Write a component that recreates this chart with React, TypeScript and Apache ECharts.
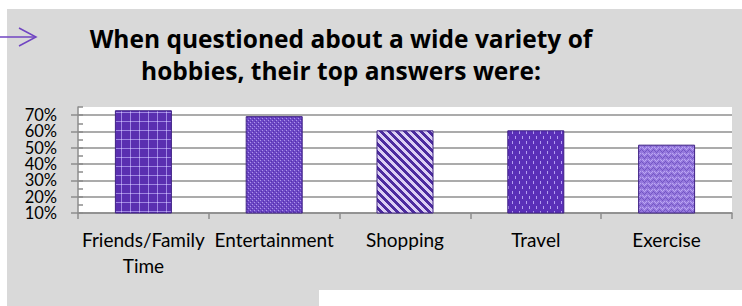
import React, { useEffect, useRef } from "react";
import * as echarts from "echarts";

const titleLines = ["When questioned about a wide variety of", "hobbies, their top answers were:"];
const categories = ["Friends/Family\nTime", "Entertainment", "Shopping", "Travel", "Exercise"];
const shares = [0.73, 0.694, 0.607, 0.607, 0.519];
const yTicksA = [0.1, 0.3, 0.5, 0.7];
const yTicksB = [0.2, 0.4, 0.6];

const FONT = "Lato, 'Open Sans', sans-serif";
const TITLE_FONT = "'Open Sans', Lato, sans-serif";

function makeCanvas(w: number, h: number, draw: (ctx: CanvasRenderingContext2D) => void) {
  const c = document.createElement("canvas");
  c.width = w;
  c.height = h;
  const ctx = c.getContext("2d")!;
  draw(ctx);
  return c;
}

function px(ctx: CanvasRenderingContext2D, x: number, y: number, col: string, w = 1, h = 1) {
  ctx.fillStyle = col;
  ctx.fillRect(x, y, w, h);
}

function patterns() {
  const grid = makeCanvas(9, 9, (ctx) => {
    px(ctx, 0, 0, "#5a2fb0", 9, 9);
    px(ctx, 4, 0, "#9f86e2", 1, 9);
    px(ctx, 0, 4, "#9f86e2", 9, 1);
    px(ctx, 4, 4, "#c9b8f4");
  });
  const dots = makeCanvas(4, 4, (ctx) => {
    px(ctx, 0, 0, "#6c47c6", 4, 4);
    px(ctx, 0, 0, "#ad94ea");
    px(ctx, 2, 2, "#ad94ea");
    px(ctx, 1, 3, "#5431a8");
    px(ctx, 3, 1, "#5431a8");
  });
  const stripes = makeCanvas(8, 8, (ctx) => {
    for (let y = 0; y < 8; y++) {
      for (let x = 0; x < 8; x++) {
        const v = (((x - y) % 8) + 8) % 8;
        px(ctx, x, y, v < 4 ? "#4d2c9f" : "#dcd0f4");
      }
    }
  });
  const dashes = makeCanvas(7, 10, (ctx) => {
    px(ctx, 0, 0, "#5a2fb8", 7, 10);
    px(ctx, 1, 1, "#b49ef0", 1, 3);
    px(ctx, 4, 6, "#b49ef0", 1, 3);
  });
  const zig = makeCanvas(6, 6, (ctx) => {
    px(ctx, 0, 0, "#9679de", 6, 6);
    const dark = "#7356c4";
    const light = "#bba8f2";
    px(ctx, 0, 0, dark); px(ctx, 1, 1, dark); px(ctx, 2, 2, dark); px(ctx, 3, 1, dark); px(ctx, 4, 0, dark);
    px(ctx, 0, 3, light); px(ctx, 1, 4, light); px(ctx, 2, 5, light); px(ctx, 3, 4, light); px(ctx, 4, 3, light);
    px(ctx, 5, 5, dark);
  });
  return [grid, dots, stripes, dashes, zig];
}

function pctFormatter(list: number[]) {
  return (v: number) => {
    const hit = list.find((t) => Math.abs(t - v) < 1e-6);
    return hit !== undefined ? Math.round(hit * 100) + "%" : "";
  };
}

export default function App() {
  const ref = useRef<HTMLDivElement>(null);

  useEffect(() => {
    if (!ref.current) return;
    const chart = echarts.init(ref.current, null, { renderer: "svg" });
    const pats = patterns();

    const barData = shares.map((v, i) => ({
      value: v,
      itemStyle: {
        color: { image: pats[i], repeat: "repeat", imageWidth: pats[i].width, imageHeight: pats[i].height } as any,
      },
    }));

    const labelStyle = {
      fontFamily: FONT,
      fontSize: 16.5,
      lineHeight: 14,
      color: "#000000",
      margin: 21,
      hideOverlap: false,
      showMinLabel: true,
      showMaxLabel: false,
    };

    chart.setOption({
      animation: false,
      backgroundColor: "#ffffff",
      title: {
        text: titleLines.join("\n"),
        left: 336,
        top: 17,
        textAlign: "center",
        textStyle: {
          fontFamily: TITLE_FONT,
          fontWeight: "bold",
          fontSize: 24.5,
          lineHeight: 32,
          color: "#000000",
        },
      },
      graphic: [
        {
          type: "rect",
          z: -10,
          silent: true,
          shape: { x: 7, y: 9, width: 735, height: 297 },
          style: { fill: "#d9d9d9" },
        },
        {
          type: "rect",
          z: -9,
          silent: true,
          shape: { x: 319, y: 290, width: 423, height: 16 },
          style: { fill: "#ffffff" },
        },
        {
          type: "polyline",
          silent: true,
          shape: { points: [[0, 37], [36, 37]] },
          style: { stroke: "#7045c2", lineWidth: 1.5, fill: null },
        },
        {
          type: "polyline",
          silent: true,
          shape: { points: [[19, 28], [36, 37], [19, 46]] },
          style: { stroke: "#7045c2", lineWidth: 1.5, fill: null },
        },
      ],
      grid: {
        left: 78,
        right: 10,
        top: 107,
        bottom: 93,
        show: true,
        backgroundColor: "#ffffff",
        borderWidth: 0,
      },
      xAxis: {
        type: "category",
        data: categories,
        axisLine: { show: true, lineStyle: { color: "#8c8c8c", width: 1.5 } },
        axisTick: { show: true, alignWithLabel: false, length: 6, lineStyle: { color: "#8c8c8c", width: 1.5 } },
        axisLabel: {
          fontFamily: FONT,
          fontSize: 19,
          lineHeight: 26,
          color: "#000000",
          margin: 13,
          interval: 0,
        },
      },
      yAxis: [
        {
          type: "value",
          min: 0.1,
          max: 0.75,
          interval: 0.1,
          axisLine: { show: true, lineStyle: { color: "#8c8c8c", width: 1.5 } },
          axisTick: { show: true, length: 7, lineStyle: { color: "#8c8c8c", width: 1.5 } },
          splitLine: { show: true, showMaxLine: false, lineStyle: { color: "#8f8f8f", width: 1.5 } },
          axisLabel: { ...labelStyle, formatter: pctFormatter(yTicksA) },
        },
        {
          type: "value",
          min: 0.1,
          max: 0.75,
          interval: 0.1,
          position: "left",
          offset: 0,
          axisLine: { show: false },
          splitLine: { show: false },
          axisLabel: { ...labelStyle, formatter: pctFormatter(yTicksB) },
          axisTick: { show: true, inside: true, length: 5, lineStyle: { color: "#8c8c8c", width: 1.5 } },
          minorTick: { show: true, splitNumber: 2, length: 5, lineStyle: { color: "#8c8c8c", width: 1.5 } },
        },
      ],
      series: [
        {
          type: "bar",
          data: barData,
          barWidth: 57,
          itemStyle: { borderColor: "#3f2284", borderWidth: 1 },
        },
      ],
    });

    return () => chart.dispose();
  }, []);

  return (
    <div
      ref={ref}
      style={{ position: "fixed", left: 0, top: 0, width: 742, height: 306 }}
    />
  );
}
